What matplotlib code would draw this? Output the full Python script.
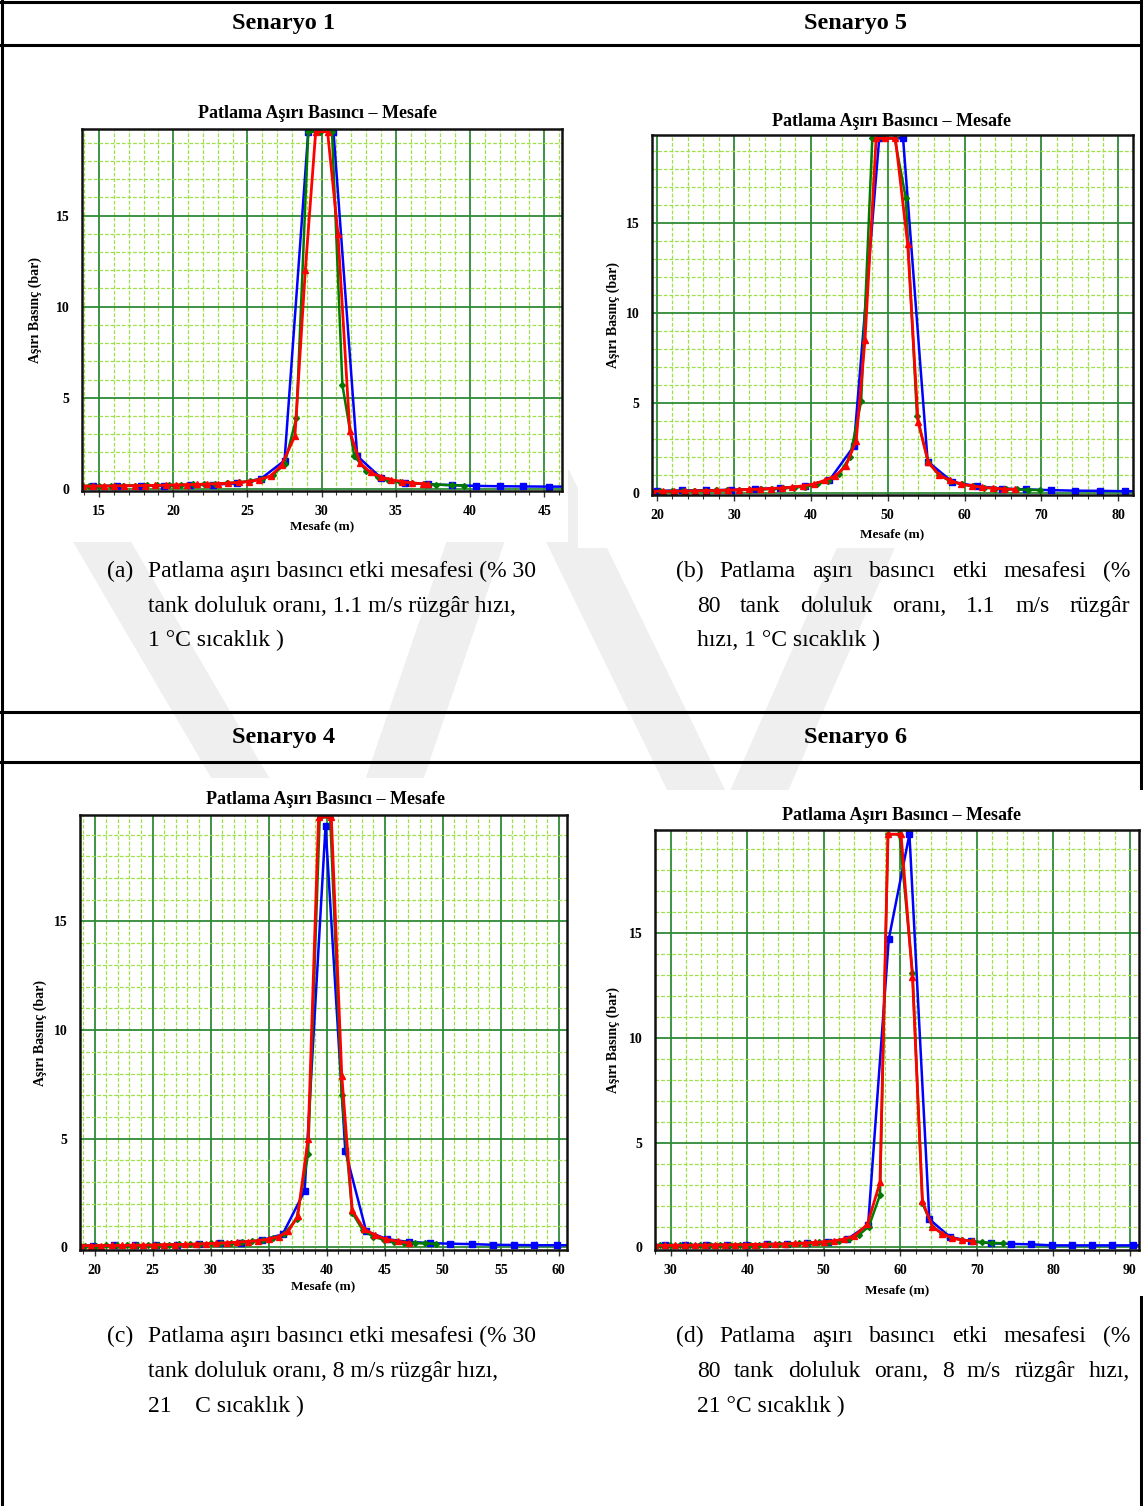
import matplotlib
matplotlib.use("Agg")
import matplotlib.pyplot as plt
from matplotlib.patches import Rectangle, Polygon
from matplotlib.lines import Line2D
from matplotlib.ticker import MultipleLocator

plt.rcParams['font.family'] = ['Liberation Serif', 'DejaVu Serif']

# ----------------------------------------------------------------------------
# data (x: Mesafe (m), y: Aşırı Basınç (bar))
a_blue_x = [13.0, 14.6, 16.2, 17.8, 19.4, 21.1, 22.7, 24.3, 25.9, 27.5, 29.1, 30.8,
            32.4, 34.0, 35.6, 37.2, 38.8, 40.4, 42.0, 43.6, 45.3, 47.0]
a_blue_y = [0.14, 0.15, 0.16, 0.17, 0.18, 0.2, 0.23, 0.3, 0.55, 1.55, 19.6, 19.6,
            1.8, 0.6, 0.32, 0.25, 0.2, 0.16, 0.14, 0.13, 0.12, 0.12]
a_green_x = [13.5, 14.3, 15.0, 15.8, 16.6, 17.4, 18.2, 18.9, 19.7, 20.5, 21.3, 22.1,
             22.8, 23.6, 24.4, 25.2, 26.0, 26.7, 27.5, 28.3, 29.1, 29.9, 30.7, 31.4,
             32.2, 33.0, 33.8, 34.5, 35.3, 36.1, 36.9, 37.7, 38.8, 39.6]
a_green_y = [0.15, 0.16, 0.16, 0.17, 0.17, 0.18, 0.19, 0.2, 0.21, 0.22, 0.24, 0.26,
             0.28, 0.32, 0.36, 0.42, 0.55, 0.75, 1.35, 3.9, 19.6, 19.6, 19.6, 5.7,
             1.8, 1.0, 0.65, 0.48, 0.38, 0.32, 0.27, 0.23, 0.2, 0.18]
a_red_x = [13.9, 14.6, 15.3, 16.0, 16.7, 17.4, 18.1, 18.8, 19.5, 20.2, 20.9, 21.6,
           22.3, 23.0, 23.7, 24.4, 25.1, 25.8, 26.6, 27.3, 28.2, 28.9, 29.6, 30.4,
           31.1, 31.9, 32.6, 33.3, 34.0, 34.7, 35.4, 36.1, 36.8, 37.2]
a_red_y = [0.14, 0.15, 0.15, 0.16, 0.17, 0.17, 0.18, 0.19, 0.2, 0.21, 0.22, 0.24,
           0.26, 0.28, 0.31, 0.35, 0.4, 0.5, 0.72, 1.3, 2.9, 12.0, 19.6, 19.6,
           14.0, 3.15, 1.4, 0.9, 0.65, 0.5, 0.4, 0.33, 0.28, 0.25]

b_blue_x = [18.0, 20.0, 23.2, 26.4, 29.6, 32.8, 36.0, 39.2, 42.4, 45.6, 48.9, 52.0,
            55.2, 58.4, 61.6, 64.8, 68.0, 71.2, 74.4, 77.6, 80.8, 84.0]
b_blue_y = [0.12, 0.12, 0.14, 0.15, 0.18, 0.22, 0.28, 0.38, 0.7, 2.6, 19.7, 19.7,
            1.75, 0.62, 0.38, 0.25, 0.2, 0.16, 0.13, 0.12, 0.1, 0.1]
b_green_x = [19.0, 20.45, 21.9, 23.35, 24.8, 26.25, 27.7, 29.15, 30.6, 32.05, 33.5,
             34.95, 36.4, 37.85, 39.3, 40.75, 42.2, 43.65, 45.1, 46.55, 48.0, 49.45,
             50.9, 52.35, 53.8, 55.25, 56.7, 58.15, 59.6, 61.05, 62.5, 63.95, 65.4,
             66.85, 68.3, 69.75]
b_green_y = [0.1, 0.1, 0.11, 0.11, 0.12, 0.13, 0.14, 0.15, 0.16, 0.18, 0.2, 0.22,
             0.26, 0.3, 0.36, 0.48, 0.65, 1.05, 2.0, 5.1, 19.7, 19.7, 19.7, 16.4,
             4.3, 1.7, 1.0, 0.65, 0.48, 0.38, 0.3, 0.25, 0.22, 0.2, 0.18, 0.16]
b_red_x = [19.4, 20.8, 22.2, 23.6, 25.0, 26.4, 27.8, 29.2, 30.6, 32.0, 33.4, 34.8,
           36.2, 37.6, 39.0, 40.4, 41.8, 43.2, 44.55, 45.9, 47.05, 48.5, 49.7, 51.0,
           52.6, 53.95, 55.3, 56.7, 58.1, 59.5, 60.9, 62.3, 63.7, 65.1, 66.5]
b_red_y = [0.1, 0.1, 0.1, 0.11, 0.12, 0.13, 0.14, 0.16, 0.18, 0.2, 0.22, 0.25,
           0.28, 0.33, 0.4, 0.5, 0.7, 0.95, 1.5, 2.9, 8.5, 19.7, 19.7, 19.7,
           13.8, 3.95, 1.7, 1.0, 0.7, 0.5, 0.4, 0.32, 0.27, 0.22, 0.2]

c_blue_x = [18.1, 19.9, 21.7, 23.5, 25.3, 27.1, 29.0, 30.8, 32.6, 34.4, 36.2, 38.1,
            39.9, 41.6, 43.4, 45.2, 47.1, 48.9, 50.6, 52.5, 54.3, 56.1, 57.9, 59.8, 61.6]
c_blue_y = [0.08, 0.08, 0.09, 0.09, 0.1, 0.12, 0.14, 0.18, 0.22, 0.33, 0.6, 2.6,
            19.4, 4.45, 0.75, 0.38, 0.25, 0.2, 0.17, 0.15, 0.12, 0.11, 0.1, 0.1, 0.1]
c_green_x = [19.2, 20.1, 21.0, 21.9, 22.8, 23.7, 24.6, 25.5, 26.4, 27.3, 28.2, 29.1,
             30.0, 30.9, 31.8, 32.7, 33.6, 34.5, 35.4, 36.3, 37.4, 38.4, 39.4, 40.3,
             41.3, 42.2, 43.1, 44.0, 44.9, 45.8, 46.7, 47.6, 48.5, 49.4]
c_green_y = [0.08, 0.08, 0.09, 0.09, 0.1, 0.1, 0.11, 0.12, 0.13, 0.14, 0.15, 0.16,
             0.18, 0.2, 0.22, 0.25, 0.28, 0.33, 0.42, 0.6, 1.3, 4.3, 19.8, 19.8,
             7.0, 1.6, 0.8, 0.5, 0.35, 0.27, 0.22, 0.2, 0.18, 0.17]
c_red_x = [18.8, 19.7, 20.6, 21.5, 22.4, 23.3, 24.2, 25.1, 26.0, 26.9, 27.8, 28.7,
           29.6, 30.5, 31.4, 32.3, 33.2, 34.1, 35.0, 35.9, 36.7, 37.5, 38.4, 39.3,
           40.4, 41.3, 42.2, 43.2, 44.2, 45.1, 46.1, 47.1]
c_red_y = [0.08, 0.08, 0.08, 0.09, 0.09, 0.1, 0.1, 0.11, 0.12, 0.13, 0.14, 0.15,
           0.17, 0.19, 0.21, 0.24, 0.27, 0.31, 0.38, 0.5, 0.75, 1.43, 5.0, 19.8,
           19.8, 7.9, 1.7, 0.85, 0.55, 0.38, 0.28, 0.2]

d_blue_x = [26.6, 29.3, 31.9, 34.6, 37.3, 39.9, 42.6, 45.2, 47.8, 50.5, 53.1, 55.8,
            58.5, 61.2, 63.8, 66.5, 69.2, 71.8, 74.5, 77.1, 79.8, 82.4, 85.1, 87.7,
            90.4, 93.0]
d_blue_y = [0.12, 0.12, 0.12, 0.13, 0.13, 0.13, 0.17, 0.17, 0.22, 0.28, 0.4, 1.08,
            14.7, 19.7, 1.35, 0.5, 0.3, 0.2, 0.17, 0.15, 0.1, 0.1, 0.1, 0.1, 0.1, 0.1]
d_green_x = [28.6, 29.9, 31.2, 32.5, 33.8, 35.1, 36.4, 37.7, 39.0, 40.3, 41.6, 42.9,
             44.2, 45.5, 46.8, 48.1, 49.4, 50.7, 52.0, 53.3, 54.6, 55.9, 57.35, 58.4,
             59.9, 61.6, 62.9, 64.2, 65.5, 66.8, 68.1, 69.4, 70.7, 72.0, 73.4]
d_green_y = [0.1, 0.1, 0.1, 0.1, 0.11, 0.11, 0.12, 0.12, 0.13, 0.13, 0.14, 0.15,
             0.16, 0.17, 0.19, 0.21, 0.24, 0.27, 0.32, 0.42, 0.6, 1.0, 2.5, 19.7,
             19.7, 13.1, 2.1, 1.0, 0.65, 0.45, 0.35, 0.3, 0.25, 0.22, 0.2]
d_red_x = [28.0, 29.3, 30.6, 31.9, 33.2, 34.5, 35.8, 37.1, 38.4, 39.7, 41.0, 42.3,
           43.6, 44.9, 46.2, 47.5, 48.8, 50.1, 51.4, 52.7, 54.0, 55.7, 57.35, 58.4,
           60.1, 61.6, 62.9, 64.2, 65.5, 66.8, 68.1, 69.5]
d_red_y = [0.1, 0.1, 0.1, 0.1, 0.11, 0.11, 0.12, 0.12, 0.13, 0.13, 0.14, 0.15,
           0.16, 0.17, 0.19, 0.21, 0.24, 0.27, 0.32, 0.4, 0.55, 1.1, 3.1, 19.7,
           19.7, 12.9, 2.2, 1.0, 0.65, 0.45, 0.35, 0.3]

headers = ["Senaryo 1", "Senaryo 5", "Senaryo 4", "Senaryo 6"]
chart_title = "Patlama Aşırı Basıncı – Mesafe"
y_label = "Aşırı Basınç (bar)"
x_label = "Mesafe (m)"
cap_labels = ["(a)", "(b)", "(c)", "(d)"]
cap_a = ["Patlama aşırı basıncı etki mesafesi (% 30",
         "tank doluluk oranı, 1.1 m/s rüzgâr hızı,",
         "1 °C sıcaklık )"]
cap_b = ["Patlama aşırı basıncı etki mesafesi (%",
         "80 tank doluluk oranı, 1.1 m/s rüzgâr",
         "hızı, 1 °C sıcaklık )"]
cap_c = ["Patlama aşırı basıncı etki mesafesi (% 30",
         "tank doluluk oranı, 8 m/s rüzgâr hızı,",
         "21    C sıcaklık )"]
cap_d = ["Patlama aşırı basıncı etki mesafesi (%",
         "80 tank doluluk oranı, 8 m/s rüzgâr hızı,",
         "21 °C sıcaklık )"]

# ----------------------------------------------------------------------------
W, H = 1143, 1506
fig = plt.figure(figsize=(W / 100, H / 100), dpi=100)


def fxy(x, y):
    return x / W, 1 - y / H


def hline(y, x0, x1, lw=2.2):
    fig.add_artist(Line2D([x0 / W, x1 / W], [1 - y / H, 1 - y / H], color='black',
                          lw=lw, transform=fig.transFigure, zorder=-3))


def vline(x, y0, y1, lw=2.2):
    fig.add_artist(Line2D([x / W, x / W], [1 - y0 / H, 1 - y1 / H], color='black',
                          lw=lw, transform=fig.transFigure, zorder=-3))


# faint background watermark (diagonal bands)
def band(xt, yt, xb, yb, w):
    pts = [fxy(xt - w / 2, yt), fxy(xt + w / 2, yt), fxy(xb + w / 2, yb), fxy(xb - w / 2, yb)]
    fig.add_artist(Polygon(pts, closed=True, transform=fig.transFigure,
                           facecolor='#efefef', edgecolor='none', zorder=-4))


band(60, 470, 300, 880, 58)
band(500, 470, 360, 880, 58)
band(540, 470, 740, 880, 58)
band(900, 470, 720, 880, 58)

# table
hline(2, 1, 1142)
hline(45, 1, 1142)
hline(712, 1, 1142)
hline(762, 1, 1142)
vline(2, 1, 1506)
vline(1141, 1, 1506)

hfont = dict(fontsize=17.5, fontweight='bold', ha='center', va='center')
fig.text(*fxy(284, 23), headers[0], **hfont)
fig.text(*fxy(855, 23), headers[1], **hfont)
fig.text(*fxy(284, 737), headers[2], **hfont)
fig.text(*fxy(855, 737), headers[3], **hfont)


def chart(frame, box, xlim, ylim, xmaj, xmin, series, title_xy, ylab_x, xlab_dy):
    l, t, r, b = frame
    bx0, by0, bx1, by1 = box
    fig.add_artist(Rectangle(fxy(bx0, by1), (bx1 - bx0) / W, (by1 - by0) / H,
                             transform=fig.transFigure, facecolor='white',
                             edgecolor='none', zorder=-1))
    ax = fig.add_axes([l / W, 1 - b / H, (r - l) / W, (b - t) / H])
    ax.set_xlim(*xlim)
    ax.set_ylim(*ylim)
    ax.xaxis.set_major_locator(MultipleLocator(xmaj))
    ax.xaxis.set_minor_locator(MultipleLocator(xmin))
    ax.yaxis.set_major_locator(MultipleLocator(5))
    ax.yaxis.set_minor_locator(MultipleLocator(1))
    ax.set_axisbelow(True)
    ax.grid(which='minor', color='#9fe04a', lw=0.9, ls=(0, (3, 1.5)))
    ax.grid(which='major', color='#2f8a36', lw=1.3)
    for s in ax.spines.values():
        s.set_linewidth(1.8)
        s.set_color('#111111')
    ax.tick_params(axis='y', which='both', length=0, pad=9, labelsize=10)
    ax.tick_params(axis='x', which='major', length=4, width=1, pad=6, labelsize=10,
                   color='#333333')
    ax.tick_params(axis='x', which='minor', length=3, width=0.8, color='#333333')
    for lab in ax.get_xticklabels() + ax.get_yticklabels():
        lab.set_fontweight('bold')
    styles = [('#0000ff', 's', 4.3, 1.8), ('#007a00', 'D', 3.0, 1.8),
              ('#ff0000', '^', 4.3, 2.0)]
    for (xs, ys), (c, m, ms, lw) in zip(series, styles):
        assert len(xs) == len(ys)
        ax.plot(xs, ys, color=c, marker=m, ms=ms, lw=lw, mec=c, mfc=c)
    fig.text(*fxy(*title_xy), chart_title, fontsize=13, fontweight='bold',
             ha='center', va='center')
    fig.text(*fxy(ylab_x, (t + b) / 2), y_label, fontsize=10, fontweight='bold',
             rotation=90, ha='center', va='center')
    fig.text(*fxy((l + r) / 2, b + xlab_dy), x_label, fontsize=9.5, fontweight='bold',
             ha='center', va='center')
    return ax


chart((82, 129, 562, 491), (8, 92, 568, 542), (13.85, 46.2), (-0.12, 19.75), 5, 1,
      [(a_blue_x, a_blue_y), (a_green_x, a_green_y), (a_red_x, a_red_y)],
      (318, 113), 35, 35)
chart((652, 135, 1133, 495), (578, 98, 1139, 548), (19.35, 81.9), (-0.11, 19.88), 10, 2,
      [(b_blue_x, b_blue_y), (b_green_x, b_green_y), (b_red_x, b_red_y)],
      (892, 121), 613, 39)
chart((80, 815, 567, 1250), (8, 778, 570, 1302), (18.75, 60.7), (-0.12, 19.9), 5, 1,
      [(c_blue_x, c_blue_y), (c_green_x, c_green_y), (c_red_x, c_red_y)],
      (325, 800), 40, 36)
chart((655, 830, 1139, 1250), (598, 790, 1143, 1296), (27.95, 91.2), (-0.12, 19.9), 10, 2,
      [(d_blue_x, d_blue_y), (d_green_x, d_green_y), (d_red_x, d_red_y)],
      (902, 815), 613, 40)

# captions
cfont = dict(fontsize=17, va='baseline')
renderer = fig.canvas.get_renderer()


def justified(words, x0, x1, y):
    texts = [fig.text(0, 0, w, **cfont) for w in words]
    widths = [tx.get_window_extent(renderer).width for tx in texts]
    gap = ((x1 - x0) - sum(widths)) / (len(words) - 1)
    x = x0
    for tx, w in zip(texts, widths):
        tx.set_position(fxy(x, y))
        x += w + gap


def caption(label, lines, lab_x, txt_x, ys, just):
    if just:
        justified([label] + lines[0].split(), lab_x, 1130, ys[0])
        justified(lines[1].split(), txt_x, 1130, ys[1])
    else:
        fig.text(*fxy(lab_x, ys[0]), label, **cfont)
        fig.text(*fxy(txt_x, ys[0]), lines[0], **cfont)
        fig.text(*fxy(txt_x, ys[1]), lines[1], **cfont)
    fig.text(*fxy(txt_x, ys[2]), lines[2], **cfont)


row1 = [577, 612, 646]
row2 = [1342, 1377, 1412]
caption(cap_labels[0], cap_a, 107, 148, row1, False)
caption(cap_labels[1], cap_b, 676, 697, row1, True)
caption(cap_labels[2], cap_c, 107, 148, row2, False)
caption(cap_labels[3], cap_d, 676, 697, row2, True)

fig.savefig("out.png", dpi=100, facecolor='white')
